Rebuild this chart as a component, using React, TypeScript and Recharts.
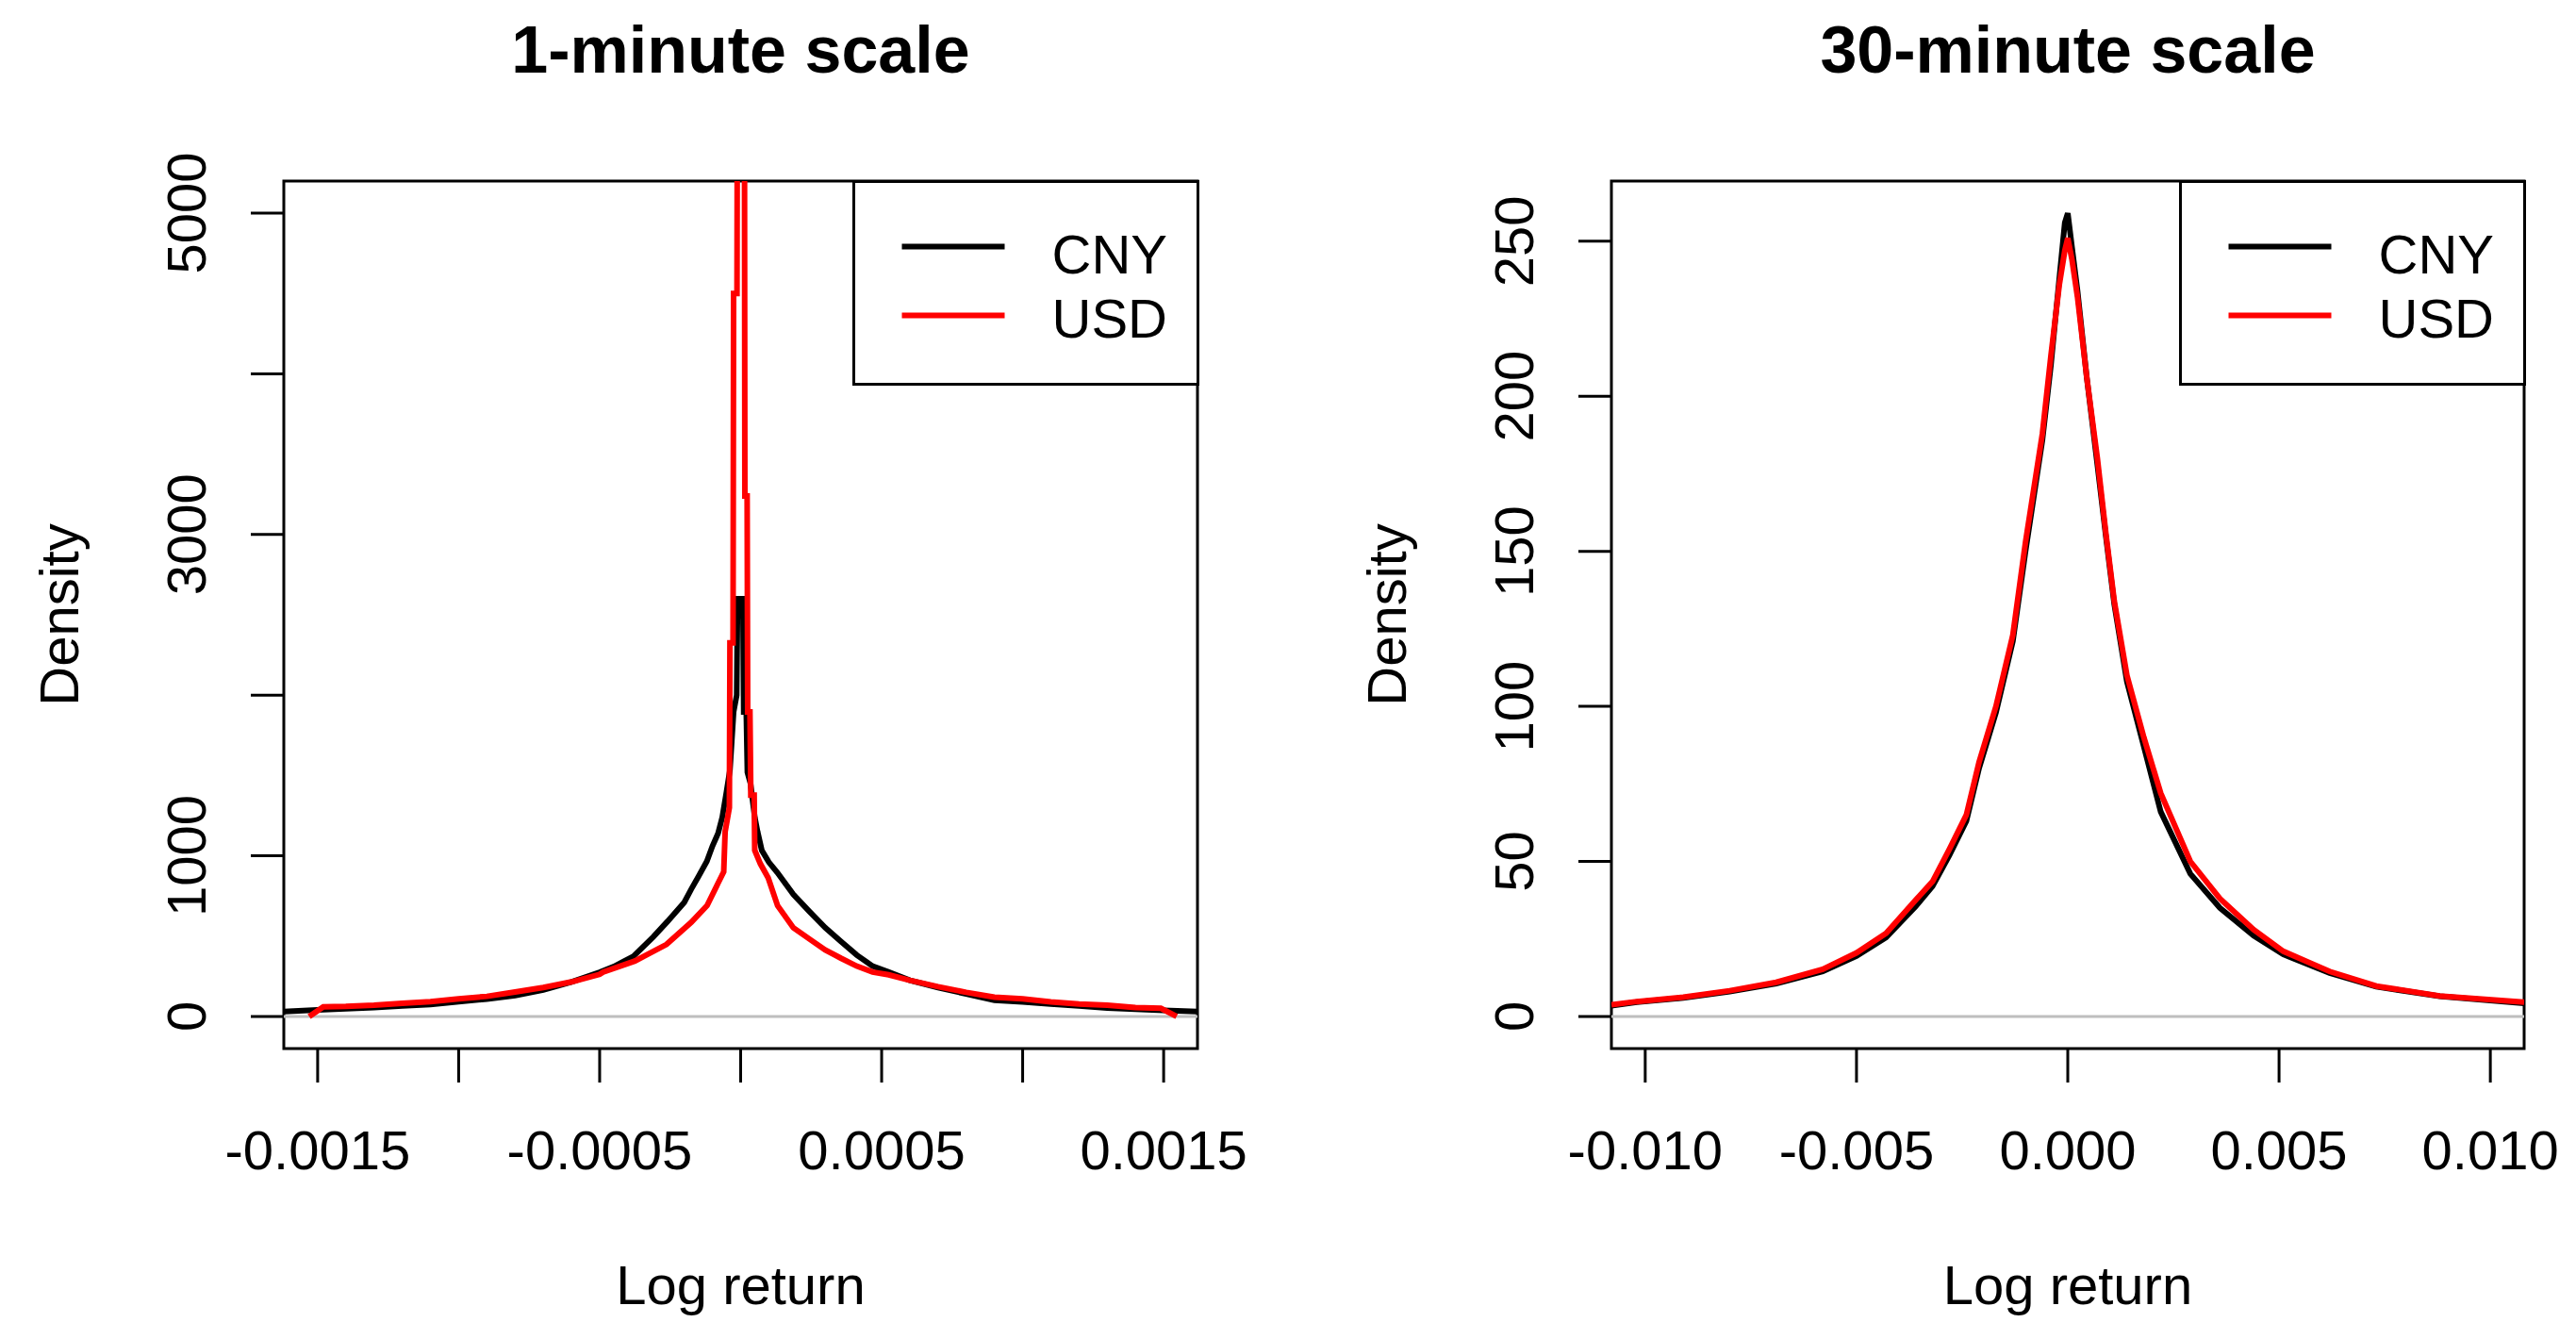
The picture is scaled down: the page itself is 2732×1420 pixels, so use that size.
import React from 'react';
import { LineChart, Line, XAxis, YAxis, ReferenceLine, ReferenceArea, Legend } from 'recharts';

const FONT = '"Liberation Sans", Arial, Helvetica, sans-serif';

// ---------- 1-minute scale ----------
const minuteCNYX = [
  -0.00162, -0.0015, -0.0014, -0.0013, -0.0012, -0.0011, -0.001, -0.0009, -0.0008, -0.0007,
  -0.0006, -0.0005, -0.00045, -0.00038, -0.00031, -0.00026, -0.0002, -0.000175, -0.00015, -0.00012,
  -0.0001, -0.00008, -0.000065, -0.00005, -0.000038, -0.000025, -0.000014, -0.000011, 0.000008, 0.000011,
  0.00002, 0.000024, 0.000035, 0.00005, 0.00006, 0.000075, 0.0001, 0.00013, 0.000187, 0.000243,
  0.0003, 0.000356, 0.000412, 0.000468, 0.000525, 0.0006, 0.0007, 0.0008, 0.0009, 0.001,
  0.0011, 0.0012, 0.0013, 0.0014, 0.0015, 0.00162,
];
const minuteCNY = [
  31, 40, 48, 55, 65, 75, 92, 108, 130, 165,
  215, 275, 310, 375, 495, 590, 710, 793, 870, 965,
  1060, 1140, 1241, 1400, 1533, 1895, 2000, 2600, 2600, 1895,
  1895, 1520, 1450, 1240, 1150, 1034, 960, 896, 759, 655,
  552, 466, 382, 313, 276, 225, 180, 140, 100, 90,
  78, 65, 52, 45, 38, 31,
];
const minuteUSDX = [
  -0.00153, -0.00148, -0.0014, -0.0013, -0.0012, -0.0011, -0.001, -0.0009, -0.0008, -0.0007,
  -0.0006, -0.0005, -0.000488, -0.000375, -0.000263, -0.000175, -0.000119, -0.00008, -0.00006, -0.000055,
  -0.00004, -0.000038, -0.000027, -0.000025, -0.000013, -0.000011, 0.000013, 0.000015, 0.000023, 0.000025,
  0.000033, 0.000036, 0.000048, 0.00005, 0.00007, 0.0000977, 0.000131, 0.000187, 0.000243, 0.0003,
  0.000356, 0.000412, 0.000468, 0.000525, 0.0006, 0.0007, 0.0008, 0.0009, 0.001, 0.0011,
  0.0012, 0.0013, 0.0014, 0.00149, 0.001546,
];
const minuteUSD = [
  0, 60, 62, 70, 82, 92, 110, 125, 152, 180,
  215, 262, 276, 345, 448, 586, 690, 830, 900, 1150,
  1300, 2325, 2325, 4500, 4500, 6500, 6500, 3240, 3240, 1895,
  1895, 1378, 1378, 1034, 950, 862, 690, 552, 483, 414,
  362, 313, 276, 259, 225, 185, 150, 120, 110, 90,
  78, 70, 55, 51, 0,
];
const minuteXTicks = [-0.0015, -0.001, -0.0005, 0, 0.0005, 0.001, 0.0015];
const minuteXTickLabels = ['-0.0015', '', '-0.0005', '', '0.0005', '', '0.0015'];
const minuteYTicks = [0, 1000, 2000, 3000, 4000, 5000];
const minuteYTickLabels = ['0', '1000', '', '3000', '', '5000'];

// ---------- 30-minute scale ----------
const halfHourX = [
  -0.0108, -0.0102, -0.0091, -0.008, -0.0069, -0.0058, -0.005, -0.0043, -0.0036, -0.0032,
  -0.0028, -0.0024, -0.0021, -0.0017, -0.0013, -0.001, -0.0006, -0.0004, -0.0002, -0.00007,
  0, 0.0001, 0.00023, 0.00045, 0.0007, 0.0009, 0.0011, 0.0014, 0.0018, 0.0022,
  0.0029, 0.0036, 0.0044, 0.0051, 0.0062, 0.0073, 0.0088, 0.0108,
];
const halfHourCNY = [
  3.5, 4.6, 6.0, 8.0, 10.6, 14.5, 19.5, 25.5, 35.5, 42,
  52, 63, 80, 98, 121, 150, 186, 210, 238, 256,
  259, 248, 234, 206, 178, 155, 133, 108, 87, 66,
  46, 35, 26, 20, 14, 9.6, 6.5, 4.2,
];
const halfHourUSD = [
  3.8, 4.8, 6.2, 8.3, 11.0, 15.2, 20.5, 26.8, 37.5, 43.5,
  54, 65, 82, 100, 123, 153, 188, 213, 236, 247,
  251, 244, 232, 206, 180, 156, 134, 110, 90, 72,
  50, 38, 28, 21, 14.5, 9.8, 6.6, 4.6,
];
const halfHourXTicks = [-0.01, -0.005, 0, 0.005, 0.01];
const halfHourXTickLabels = ['-0.010', '-0.005', '0.000', '0.005', '0.010'];
const halfHourYTicks = [0, 50, 100, 150, 200, 250];
const halfHourYTickLabels = ['0', '50', '100', '150', '200', '250'];

const seriesNames = ['CNY', 'USD'];
const seriesColors = ['#000000', '#ff0000'];

const toRows = (xs: number[], ys: number[]) => xs.map((x, i) => ({ x, y: ys[i] }));
const minuteSeries = [toRows(minuteCNYX, minuteCNY), toRows(minuteUSDX, minuteUSD)];
const halfHourSeries = [toRows(halfHourX, halfHourCNY), toRows(halfHourX, halfHourUSD)];

const W = 1366;
const H = 1420;
const PLOT_TOP = 192;
const PLOT_BOTTOM = 1112;
const X_AXIS_H = 120;
const FS = 58;
const LW = 365;
const LH = 215;

function labelFor(ticks: number[], labels: string[], v: number) {
  const i = ticks.findIndex((t) => Math.abs(t - v) < 1e-12);
  return i >= 0 ? labels[i] : '';
}

function makeLegend() {
  return (props: any) => {
    const payload = props.payload || [];
    return (
      <svg width={LW + 3} height={LH + 3} style={{ display: 'block' }}>
        <rect x={1.5} y={1.5} width={LW} height={LH} fill="#ffffff" stroke="#000" strokeWidth={3} />
        {payload.map((p: any, i: number) => (
          <g key={p.value}>
            <line x1={52.5} x2={161.5} y1={70.5 + 73 * i} y2={70.5 + 73 * i} stroke={p.color} strokeWidth={6} />
            <text x={211.5} y={98.5 + 68 * i} fontSize={FS} fontFamily={FONT} fill="#000">
              {p.value}
            </text>
          </g>
        ))}
      </svg>
    );
  };
}

type PanelProps = {
  left: number;
  title: string;
  series: { x: number; y: number }[][];
  xDomain: [number, number];
  yDomain: [number, number];
  xTicks: number[];
  xLabels: string[];
  yTicks: number[];
  yLabels: string[];
  plotLeft: number;
  plotRight: number;
};

function Panel(p: PanelProps) {
  const XTick = (props: any) => {
    const { x, y, payload } = props;
    return (
      <text x={x} y={y + 92} textAnchor="middle" fontSize={FS} fontFamily={FONT} fill="#000">
        {labelFor(p.xTicks, p.xLabels, payload.value)}
      </text>
    );
  };
  const YTick = (props: any) => {
    const { x, y, payload } = props;
    const tx = x - 48;
    return (
      <text
        x={tx}
        y={y}
        transform={`rotate(-90, ${tx}, ${y})`}
        textAnchor="middle"
        fontSize={FS}
        fontFamily={FONT}
        fill="#000"
      >
        {labelFor(p.yTicks, p.yLabels, payload.value)}
      </text>
    );
  };
  const titleLabel = (props: any) => {
    const vb = props.viewBox;
    return (
      <text
        x={vb.x + vb.width / 2}
        y={77}
        textAnchor="middle"
        fontSize={70}
        fontWeight="bold"
        fontFamily={FONT}
        fill="#000"
      >
        {p.title}
      </text>
    );
  };
  const xAxisLabel = (props: any) => {
    const vb = props.viewBox;
    return (
      <text x={vb.x + vb.width / 2} y={vb.y + 271} textAnchor="middle" fontSize={FS} fontFamily={FONT} fill="#000">
        Log return
      </text>
    );
  };
  const yAxisLabel = (props: any) => {
    const vb = props.viewBox;
    const tx = vb.x + vb.width - 218;
    const ty = vb.y + vb.height / 2;
    return (
      <text
        x={tx}
        y={ty}
        transform={`rotate(-90, ${tx}, ${ty})`}
        textAnchor="middle"
        fontSize={FS}
        fontFamily={FONT}
        fill="#000"
      >
        Density
      </text>
    );
  };

  return (
    <div style={{ position: 'absolute', left: p.left, top: 0, width: W, height: H }}>
      <LineChart
        width={W}
        height={H}
        margin={{ top: PLOT_TOP, right: W - p.plotRight, left: 0, bottom: H - PLOT_BOTTOM - X_AXIS_H }}
      >
        <XAxis
          dataKey="x"
          type="number"
          domain={p.xDomain}
          ticks={p.xTicks}
          interval={0}
          allowDataOverflow
          axisLine={false}
          tickLine={{ stroke: '#000', strokeWidth: 3 }}
          tickSize={36}
          tickMargin={0}
          height={X_AXIS_H}
          tick={<XTick />}
          label={xAxisLabel}
        />
        <YAxis
          type="number"
          domain={p.yDomain}
          ticks={p.yTicks}
          interval={0}
          allowDataOverflow
          axisLine={false}
          tickLine={{ stroke: '#000', strokeWidth: 3 }}
          tickSize={35}
          tickMargin={0}
          width={p.plotLeft}
          tick={<YTick />}
          label={yAxisLabel}
        />
        <ReferenceLine y={0} stroke="#bebebe" strokeWidth={3} />
        {seriesNames.map((name, i) => (
          <Line
            key={name}
            data={p.series[i]}
            dataKey="y"
            name={name}
            stroke={seriesColors[i]}
            strokeWidth={6}
            type="linear"
            dot={false}
            activeDot={false}
            isAnimationActive={false}
          />
        ))}
        <ReferenceArea
          x1={p.xDomain[0]}
          x2={p.xDomain[1]}
          y1={p.yDomain[0]}
          y2={p.yDomain[1]}
          fill="none"
          fillOpacity={0}
          stroke="#000"
          strokeWidth={3}
          strokeOpacity={1}
          ifOverflow="visible"
          label={titleLabel}
        />
        <Legend
          layout="vertical"
          align="center"
          verticalAlign="middle"
          content={makeLegend()}
          wrapperStyle={{
            position: 'absolute',
            left: p.plotRight - LW - 1.5,
            top: PLOT_TOP - 1.5,
            width: LW + 3,
            height: LH + 3,
          }}
        />
      </LineChart>
    </div>
  );
}

export default function App() {
  return (
    <div style={{ position: 'absolute', left: 0, top: 0, width: 2732, height: 1420, background: '#fff' }}>
      <Panel
        left={0}
        title="1-minute scale"
        series={minuteSeries}
        xDomain={[-0.00162, 0.00162]}
        yDomain={[-200, 5200]}
        xTicks={minuteXTicks}
        xLabels={minuteXTickLabels}
        yTicks={minuteYTicks}
        yLabels={minuteYTickLabels}
        plotLeft={301}
        plotRight={1270}
      />
      <Panel
        left={1366}
        title="30-minute scale"
        series={halfHourSeries}
        xDomain={[-0.0108, 0.0108]}
        yDomain={[-10.36, 269.4]}
        xTicks={halfHourXTicks}
        xLabels={halfHourXTickLabels}
        yTicks={halfHourYTicks}
        yLabels={halfHourYTickLabels}
        plotLeft={343}
        plotRight={1311}
      />
    </div>
  );
}
